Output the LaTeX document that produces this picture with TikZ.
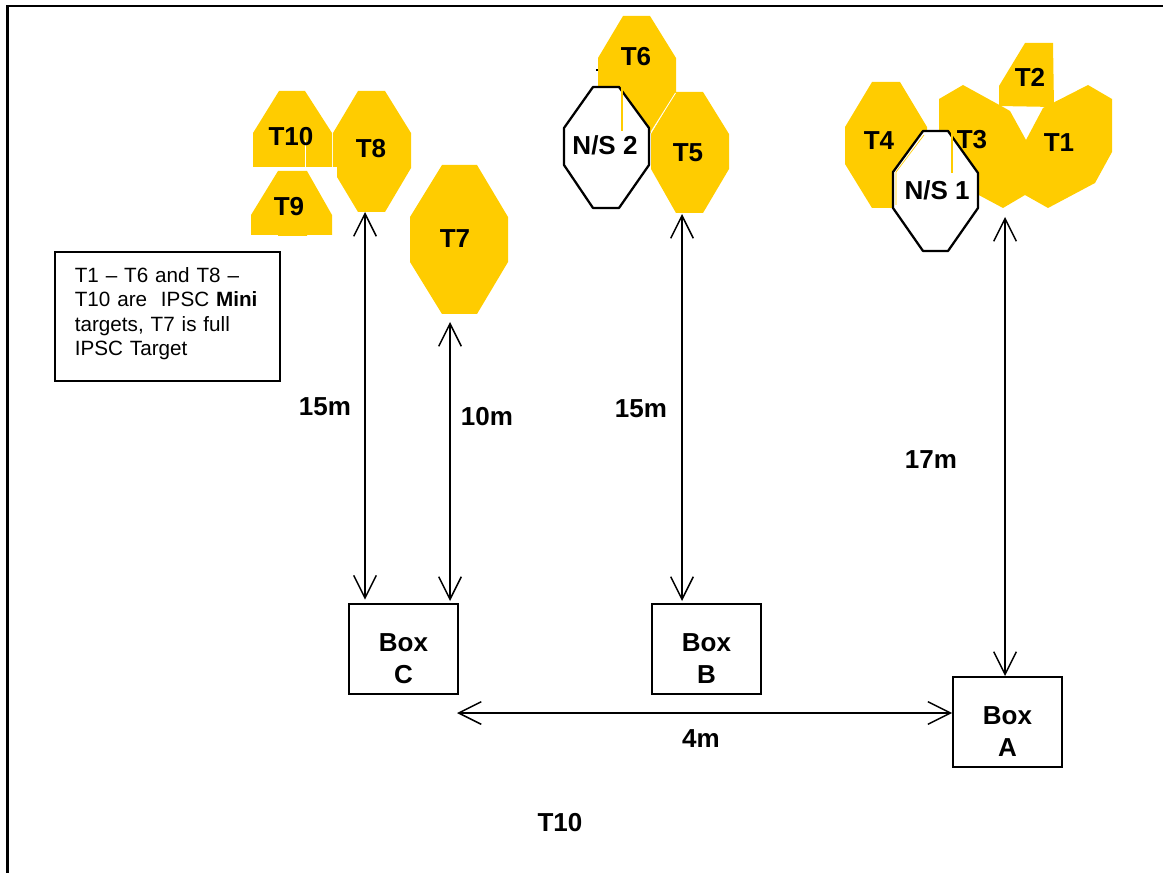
\documentclass[tikz,border=0pt]{standalone}
\usepackage{fontspec}
\setmainfont{Liberation Sans}
\usetikzlibrary{arrows.meta}
\definecolor{targetyellow}{HTML}{FFCC00}
\tikzset{
  target/.style={fill=targetyellow},
  noshoot/.style={draw=black,fill=white,line width=1.7pt,line join=round},
  seam/.style={draw=white,line width=.6pt},
  hit/.style={draw=targetyellow,line width=1.3pt},
  lab/.style={inner sep=0pt,font=\bfseries\fontsize{19.5}{23.8}\selectfont},
  boxnode/.style={draw,line width=1.5pt,minimum width=81.5pt,minimum height=67.5pt,inner sep=0pt,align=center,font=\bfseries\fontsize{19.5}{23.8}\selectfont},
  twoway/.style={{Straight Barb[length=17pt,width=17pt]}-{Straight Barb[length=17pt,width=17pt]},line width=1.1pt}
}
\begin{document}
\begin{tikzpicture}[x=.75pt,y=-.75pt]
\useasboundingbox (0,0) rectangle (1163,873);
\draw[line width=2pt] (7.5,873) -- (7.5,6) -- (1163,6);%frame
\draw[line width=1pt] (596,70) -- (598.5,70);
% far group
\fill[target] (279,91) -- (305,91) -- (332,133) -- (332,167) -- (253,167) -- (253,133) -- cycle;
\fill[target] (278,171) -- (307,171) -- (332,215) -- (332,235) -- (307,235) -- (307,236) -- (278,236) -- (278,235) -- (251,235) -- (251,215) -- cycle;
\fill[target] (358,91) -- (385,91) -- (411,133) -- (411,168) -- (385,212) -- (358,212) -- (337,177) -- (337,167) -- (333,167) -- (333,133) -- cycle;
\fill[target] (442,165) -- (477,165) -- (508,217) -- (508,262) -- (477,314) -- (442,314) -- (410,262) -- (410,217) -- cycle;
\draw[seam] (305.5,140) -- (305.5,167);
% middle group
\fill[target] (623,16) -- (650,16) -- (676,58) -- (676,93) -- (651,132) -- (640,150) -- (598,100) -- (598,58) -- cycle;
\fill[target] (676,92) -- (703,92) -- (729,134) -- (729,169) -- (703,213) -- (676,213) -- (651,169) -- (651,134) -- cycle;
\draw[seam] (675.5,93) -- (651,132);
\filldraw[noshoot] (593,87) -- (619,87) -- (649,128) -- (649,165) -- (619,208) -- (593,208) -- (564,165) -- (564,128) -- cycle;
\draw[hit] (622,88) -- (622,131);
% right group
\fill[target] (872,82) -- (900,82) -- (927,127) -- (927,170) -- (900,208) -- (872,208) -- (845,164) -- (845,127) -- cycle;
\fill[target] (939,99) -- (963,85) -- (1003,107) -- (1010,111) -- (1026,140) -- (1036,170) -- (1025,195) -- (1003,208) -- (960,185) -- (939,150) -- cycle;
\fill[target] (1043,108) -- (1088,85) -- (1112,99) -- (1112,152) -- (1095,183) -- (1048,208) -- (1025,195) -- (1015,170) -- (1026,140) -- cycle;
\fill[target] (1025,43) -- (1053,43) -- (1054,107) -- (999,106) -- (999,86) -- cycle;
\filldraw[noshoot] (923,131) -- (948,131) -- (978,173) -- (978,208) -- (948,251) -- (923,251) -- (893,208) -- (893,172) -- cycle;
\draw[hit] (952,132) -- (952,173);
\draw[targetyellow,line width=.5pt] (896,205) -- (896,172) -- (924,135);
% labels
\foreach \tname/\px/\py in {T10/291/137,T8/371/149,T9/289/207,T7/455/239,T6/636/57,T5/688/153,T4/879/141,T3/972/140,T2/1030/77,T1/1059/143}
  \node[lab] (\tname) at (\px,\py) {\tname};
\node[lab] (ns1) at (937,190) {N/S 1};
\node[lab] (ns2) at (605,145) {N/S 2};
\node[draw,line width=1.3pt,anchor=north west,text width=139pt,minimum height=97pt,inner xsep=15pt,inner ysep=0pt,align=left,font=\fontsize{15.5}{18.3}\selectfont] (note) at (54,251)
  {T1 -- T6 and T8 --\\T10 are\ \ IPSC \textbf{Mini}\\targets, T7 is full\\IPSC Target\rule[-7.7pt]{0pt}{7.7pt}};
% boxes
\node[boxnode] (boxc) at (403.5,649) {\rule{0pt}{28pt}Box\\C};
\node[boxnode] (boxb) at (706.5,649) {\rule{0pt}{28pt}Box\\B};
\node[boxnode] (boxa) at (1007.5,722) {\rule{0pt}{28pt}Box\\A};
% distances
\coordinate (T8foot) at (365,212);
\coordinate (T7foot) at (450,322);
\coordinate (T5foot) at (682,214);
\coordinate (T1foot) at (1005,217);
\coordinate (fourm) at (457,713);
\draw[twoway,shorten >=2.5pt] (T8foot) -- (T8foot |- boxc.north);
\draw[twoway,shorten >=1.5pt] (T7foot) -- (T7foot |- boxc.north);
\draw[twoway,shorten >=1.5pt] (T5foot) -- (T5foot |- boxb.north);
\draw[twoway] (T1foot) -- (T1foot |- boxa.north);
\draw[twoway] (fourm) -- (fourm -| boxa.west);
\node[lab] (d15a) at (325,407) {15m};
\node[lab] (d10) at (487,417) {10m};
\node[lab] (d15b) at (641,409) {15m};
\node[lab] (d17) at (931,460) {17m};
\node[lab] (d4) at (701,739) {4m};
\node[lab] (tten) at (560,823) {T10};
\end{tikzpicture}
\end{document}
